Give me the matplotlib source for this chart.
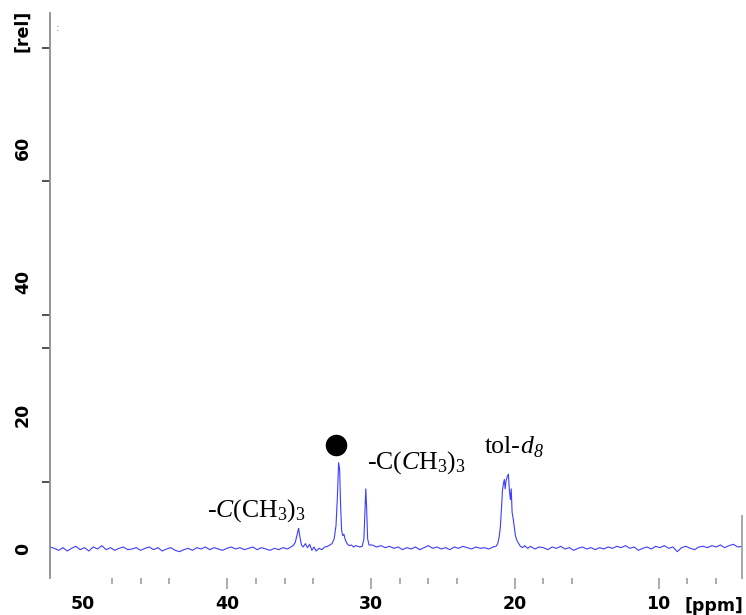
import matplotlib
matplotlib.use('Agg')
import matplotlib.pyplot as plt
from matplotlib.ticker import FixedLocator

plt.rcParams['mathtext.fontset'] = 'custom'
plt.rcParams['mathtext.rm'] = 'Liberation Serif'
plt.rcParams['mathtext.it'] = 'Liberation Serif:italic'

# 13C spectrum: chemical shift (ppm) and intensity (rel)
ppm = [52.3, 52.0, 51.7, 51.4, 51.1, 50.8, 50.5, 50.2, 49.9, 49.6,
       49.3, 49.0, 48.7, 48.4, 48.1, 47.8, 47.5, 47.2, 46.9, 46.6,
       46.3, 46.0, 45.7, 45.4, 45.1, 44.8, 44.5, 44.2, 43.9, 43.6,
       43.3, 43.0, 42.7, 42.4, 42.1, 41.8, 41.5, 41.2, 40.9, 40.6,
       40.3, 40.0, 39.7, 39.4, 39.1, 38.8, 38.5, 38.2, 37.9, 37.6,
       37.3, 37.0, 36.7, 36.4, 36.1, 35.8, 35.55, 35.4, 35.25, 35.12,
       35.02, 34.93, 34.82, 34.7, 34.55, 34.4, 34.25, 34.1, 33.95, 33.8,
       33.6, 33.4, 33.2, 33.0, 32.85, 32.7, 32.55, 32.42, 32.32, 32.24,
       32.17, 32.1, 32.03, 31.95, 31.87, 31.78, 31.65, 31.5, 31.35, 31.2,
       31.05, 30.9, 30.75, 30.6, 30.48, 30.41, 30.35, 30.29, 30.22, 30.12,
       29.9, 29.6, 29.3, 29.0, 28.7, 28.4, 28.1, 27.8, 27.5, 27.2,
       26.9, 26.6, 26.3, 26.0, 25.7, 25.4, 25.1, 24.8, 24.5, 24.2,
       23.9, 23.6, 23.3, 23.0, 22.7, 22.4, 22.1, 21.8, 21.5, 21.3,
       21.18, 21.08, 21.0, 20.92, 20.85, 20.78, 20.72, 20.66, 20.6, 20.52,
       20.44, 20.37, 20.3, 20.24, 20.18, 20.11, 20.03, 19.95, 19.85, 19.72,
       19.6, 19.45, 19.3, 19.1, 18.9, 18.6, 18.3, 18.0, 17.7, 17.4,
       17.1, 16.8, 16.5, 16.2, 15.9, 15.6, 15.3, 15.0, 14.7, 14.4,
       14.1, 13.8, 13.5, 13.2, 12.9, 12.6, 12.3, 12.0, 11.7, 11.4,
       11.1, 10.8, 10.5, 10.2, 9.9, 9.6, 9.3, 9.0, 8.7, 8.4,
       8.1, 7.8, 7.5, 7.2, 6.9, 6.6, 6.3, 6.0, 5.7, 5.4,
       5.1, 4.8, 4.5, 4.2]
intensity = [0.3, 0.1, -0.2, 0.2, -0.3, 0.1, 0.4, -0.1, 0.2, -0.3,
             0.3, 0.0, 0.5, -0.1, 0.2, -0.2, 0.1, 0.3, -0.1, 0.0,
             0.2, -0.2, 0.1, 0.3, -0.1, 0.2, -0.3, 0.0, 0.2, -0.2,
             -0.4, -0.1, 0.1, -0.2, 0.2, 0.0, 0.3, -0.1, 0.2, 0.0,
             -0.2, 0.1, 0.3, 0.0, 0.2, -0.1, 0.1, 0.3, -0.1, 0.2,
             0.0, -0.2, 0.1, -0.1, 0.2, 0.0, 0.3, 0.5, 1.0, 2.2,
             3.1, 1.8, 0.6, 0.3, 0.8, 0.2, 0.7, -0.2, 0.3, -0.3,
             0.1, -0.1, 0.3, 0.4, 0.6, 0.8, 1.5, 3.5, 8.0, 12.9,
             12.0, 6.5, 2.8, 2.0, 2.2, 1.4, 0.8, 0.5, 0.6, 0.3,
             0.5, 0.4, 0.3, 0.4, 1.5, 5.5, 9.0, 6.0, 1.5, 0.6,
             0.6, 0.3, 0.5, 0.2, 0.4, 0.1, 0.3, -0.1, 0.2, 0.0,
             0.3, -0.1, 0.2, 0.5, 0.1, 0.3, 0.0, 0.2, -0.1, 0.3,
             0.1, 0.4, 0.2, 0.0, 0.3, 0.1, 0.2, 0.0, 0.3, 0.4,
             0.8, 1.8, 3.2, 6.0, 8.8, 9.8, 10.4, 9.0, 10.2, 10.8,
             11.2, 8.8, 7.4, 9.0, 5.5, 4.6, 3.3, 2.0, 1.3, 0.8,
             0.4, 0.2, 0.5, 0.1, 0.4, 0.0, 0.3, 0.2, -0.1, 0.3,
             0.1, 0.4, 0.0, 0.2, -0.2, 0.1, 0.3, 0.0, 0.2, -0.1,
             0.2, 0.0, 0.3, 0.1, 0.4, 0.2, 0.5, 0.1, 0.3, -0.2,
             0.1, 0.3, 0.0, 0.4, 0.2, 0.5, 0.1, 0.3, -0.4, 0.2,
             0.4, 0.1, -0.1, 0.3, 0.4, 0.2, 0.5, 0.3, 0.6, 0.2,
             0.5, 0.7, 0.3, 0.4]

x_major = [50, 40, 30, 20, 10]
x_minor = [48, 46, 44, 38, 36, 34, 28, 26, 24, 18, 16, 8, 6]
y_major = [0, 20, 40, 60]
y_minor = [10, 30, 35, 55, 75]

# peak labels: text, ppm, intensity (baseline of text)
labels = ['-$\\mathit{C}$(CH$_3$)$_3$', '-C($\\mathit{C}$H$_3$)$_3$']
label_ppm = [41.39, 30.28]
label_int = [4.9, 12.1]
solvent_ppm = 22.08
solvent_int = 14.4
dot_ppm = 32.43
dot_int = 15.6

fig = plt.figure(figsize=(7.46, 6.15), dpi=100, facecolor='white')
ax = fig.add_axes([50 / 746, 37 / 615, 692 / 746, 565 / 615])

ax.plot(ppm, intensity, color='#3d3dff', linewidth=0.8)
ax.plot(dot_ppm, dot_int, 'o', color='black', markersize=14.5)
for txt, xp, yp in zip(labels, label_ppm, label_int):
    ax.text(xp, yp, txt, fontsize=18.5, family='Liberation Serif',
            ha='left', va='baseline')

# tol-d8, with an italic subscript 8
tol = ax.text(solvent_ppm, solvent_int, 'tol-', fontsize=18.5,
              family='Liberation Serif', ha='left', va='baseline')
tol_d = ax.annotate('d', xy=(1, 0), xycoords=tol, xytext=(0, 0),
                    textcoords='offset points', fontsize=18.5,
                    family='Liberation Serif', style='italic',
                    ha='left', va='bottom')
ax.annotate('8', xy=(1, 0), xycoords=tol_d, xytext=(0.3, -2.5),
            textcoords='offset points', fontsize=13,
            family='Liberation Serif', style='italic',
            ha='left', va='bottom')

ax.set_xlim(52.3, 4.2)
ax.set_ylim(-4.34, 80.2)

for side in ['top', 'bottom']:
    ax.spines[side].set_visible(False)
ax.spines['left'].set_color('#8c8c8c')
ax.spines['left'].set_linewidth(1.3)
ax.spines['right'].set_color('#a0a0a0')
ax.spines['right'].set_linewidth(1.3)
ax.spines['right'].set_bounds(-4.34, 5)

ax.xaxis.set_major_locator(FixedLocator(x_major))
ax.xaxis.set_minor_locator(FixedLocator(x_minor))
ax.yaxis.set_major_locator(FixedLocator(y_major))
ax.yaxis.set_minor_locator(FixedLocator(y_minor))

ax.tick_params(axis='x', which='major', length=8, width=1.2, color='#a0a0a0',
               pad=4, labelsize=12.5)
ax.tick_params(axis='x', which='minor', length=4.3, width=1.2, color='#a0a0a0')
ax.tick_params(axis='y', which='major', length=0, pad=13, labelsize=12.5,
               labelrotation=90)
ax.tick_params(axis='y', which='minor', length=5.8, width=1.2, color='#333333')
ax.xaxis.get_major_ticks()[0].tick1line.set_visible(False)
for lab in ax.get_xticklabels() + ax.get_yticklabels():
    lab.set_fontweight('bold')
for lab in ax.get_yticklabels():
    lab.set_va('center')

fig.text(743 / 746, 1 - 597 / 615, '[ppm]', ha='right', va='top',
         fontsize=12.5, fontweight='bold')
fig.text(22 / 746, 1 - 31 / 615, '[rel]', ha='center', va='center',
         rotation=90, fontsize=12.5, fontweight='bold')
fig.text(58 / 746, 1 - 28 / 615, ':', ha='center', va='center',
         fontsize=8, color='#777777')

fig.savefig('out.png', dpi=100)
plt.close(fig)
